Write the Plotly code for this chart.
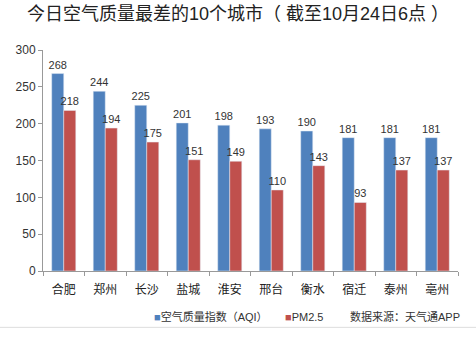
import plotly.graph_objects as go

cities = ["合肥", "郑州", "长沙", "盐城", "淮安", "邢台", "衡水", "宿迁", "泰州", "亳州"]
aqi = [268, 244, 225, 201, 198, 193, 190, 181, 181, 181]
pm25 = [218, 194, 175, 151, 149, 110, 143, 93, 137, 137]
y_ticks = [0, 50, 100, 150, 200, 250, 300]
series_names = ["空气质量指数（AQI）", "PM2.5"]
source_note = "数据来源：天气通APP"

BLUE = "#4F81BD"
RED = "#C0504D"
FONT = "Liberation Sans, Noto Sans CJK SC, sans-serif"

fig = go.Figure()
for name, vals, color in [(series_names[0], aqi, BLUE), (series_names[1], pm25, RED)]:
    fig.add_trace(go.Bar(
        x=cities, y=vals, name=name, marker_color=color,
        text=vals, textposition="outside", cliponaxis=False,
        textfont=dict(size=11, color="#333333"), showlegend=False,
    ))

fig.update_layout(
    width=476, height=342,
    margin=dict(l=43, r=18, t=50, b=71),
    paper_bgcolor="white", plot_bgcolor="white",
    font=dict(family=FONT, color="#333333", size=12),
    barmode="group", bargap=0.42, bargroupgap=0,
    uniformtext=dict(minsize=11, mode="show"),
    title=dict(text="今日空气质量最差的10个城市（ 截至10月24日6点 ）",
               x=0.5, xanchor="center", y=0.96, yanchor="middle",
               font=dict(size=18, color="#222222")),
    xaxis=dict(showline=True, linecolor="#999999", ticks="outside",
               tickson="boundaries", ticklen=4, tickcolor="#999999",
               ticklabelstandoff=8,
               tickfont=dict(size=12, color="#222222"), showgrid=False),
    yaxis=dict(range=[0, 300], tickvals=y_ticks, showline=True, linecolor="#999999",
               ticks="outside", ticklen=4, tickcolor="#999999", showgrid=False,
               zeroline=False, tickfont=dict(size=12, color="#333333")),
)

# legend row drawn as text with coloured square markers
legend_y = -0.208
fig.add_annotation(
    text=f"<span style='color:{BLUE}'>■</span>{series_names[0]}",
    xref="paper", yref="paper", x=0.262, xanchor="left", y=legend_y, yanchor="middle",
    showarrow=False, font=dict(size=11, color="#333333"))
fig.add_annotation(
    text=f"<span style='color:{RED}'>■</span>{series_names[1]}",
    xref="paper", yref="paper", x=0.578, xanchor="left", y=legend_y, yanchor="middle",
    showarrow=False, font=dict(size=11, color="#333333"))
fig.add_annotation(text=source_note, xref="paper", yref="paper",
                   x=1.01, xanchor="right", y=legend_y, yanchor="middle",
                   showarrow=False, font=dict(size=11, color="#333333"))
fig.add_shape(type="line", xref="paper", yref="paper", x0=-0.2, x1=1.05,
              y0=-0.255, y1=-0.255, line=dict(color="#dddddd", width=1))

fig.write_html("out.html")
